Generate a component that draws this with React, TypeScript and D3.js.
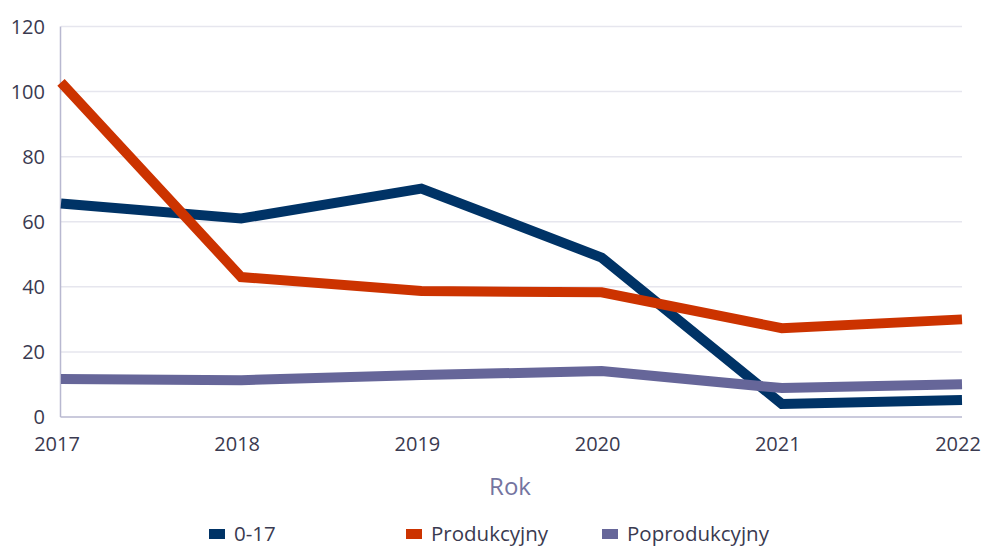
import React from "react";
import * as d3 from "d3";

const years = ["2017", "2018", "2019", "2020", "2021", "2022"];
const series017 = [65.6, 61, 70.2, 49, 4, 5.2];
const seriesProd = [102.8, 43, 38.7, 38.3, 27.3, 30];
const seriesPoprod = [11.7, 11.3, 12.9, 14.1, 8.9, 10.1];
const yTicks = [0, 20, 40, 60, 80, 100, 120];
const seriesNames = ["0-17", "Produkcyjny", "Poprodukcyjny"];
const colors = ["#003366", "#cc3300", "#666699"];

export default function App() {
  const W = 986, H = 547;
  const x = d3.scalePoint<string>().domain(years).range([61, 962]);
  const y = d3.scaleLinear().domain([0, 120]).range([417, 26.5]);
  const line = d3.line<number>().x((_, i) => x(years[i])!).y((d) => y(d));
  const data = [series017, seriesProd, seriesPoprod];
  const font = "'Open Sans', 'Noto Sans', sans-serif";
  const legendTextX = [234, 431, 627];
  return (
    <svg width={W} height={H} style={{ position: "absolute", left: 0, top: 0, fontFamily: font }}>
      <rect width={W} height={H} fill="#fff" />
      {yTicks.slice(1).map((t) => (
        <line key={t} x1={61} x2={962} y1={y(t)} y2={y(t)} stroke="#e6e6ee" strokeWidth={1.5} />
      ))}
      <line x1={60.5} x2={60.5} y1={y(120)} y2={y(0)} stroke="#b8b8d0" strokeWidth={1.5} />
      <line x1={60.5} x2={962} y1={y(0)} y2={y(0)} stroke="#b8b8d0" strokeWidth={1.5} />
      {yTicks.map((t) => (
        <text key={t} x={45} y={y(t)} dy="0.36em" textAnchor="end" fontSize={20} fill="#3a3a50">{t}</text>
      ))}
      {years.map((yr) => (
        <text key={yr} x={x(yr)! - 4} y={451} textAnchor="middle" fontSize={20} fill="#3a3a50">{yr}</text>
      ))}
      <text x={510} y={495} textAnchor="middle" fontSize={24} fill="#7474a0">Rok</text>
      {data.map((d, i) => (
        <path key={i} d={line(d) || ""} fill="none" stroke={colors[i]} strokeWidth={10} strokeLinejoin="miter" strokeLinecap="butt" />
      ))}
      {seriesNames.map((n, i) => (
        <g key={n}>
          <rect x={legendTextX[i] - 25} y={529} width={16} height={10} fill={colors[i]} />
          <text x={legendTextX[i]} y={541} fontSize={20.5} fill="#3a3a50">{n}</text>
        </g>
      ))}
    </svg>
  );
}
